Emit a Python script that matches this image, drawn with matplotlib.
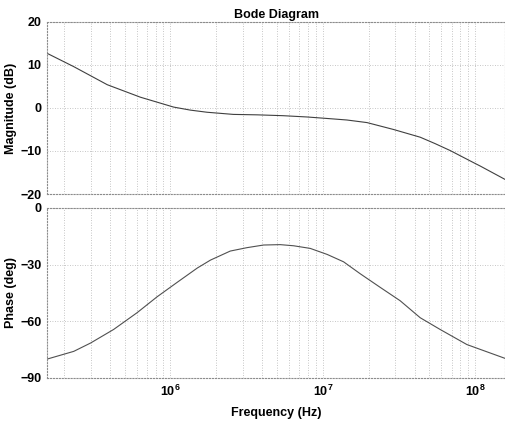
# Bode diagram (magnitude + phase) recreated with matplotlib
import numpy as np
import matplotlib
matplotlib.use('Agg')
import matplotlib.pyplot as plt
from matplotlib.ticker import LogLocator, NullFormatter

plt.rcParams['font.family'] = ['Liberation Sans', 'DejaVu Sans']
plt.rcParams['font.weight'] = 'bold'
plt.rcParams['mathtext.fontset'] = 'custom'
plt.rcParams['mathtext.rm'] = 'Liberation Sans:bold'
plt.rcParams['mathtext.default'] = 'rm'

# Magnitude curve
mag_freq = [1.55e5, 2.32e5, 3.85e5, 6.35e5, 1.05e6, 1.35e6, 1.74e6, 2.59e6,
            3.7e6, 5.5e6, 7.9e6, 1.12e7, 1.44e7, 1.95e7, 2.91e7, 4.36e7,
            5.47e7, 6.86e7, 9.75e7, 1.08e8, 1.57e8]
mag_db = [12.7, 9.6, 5.4, 2.5, 0.2, -0.5, -1.0, -1.5,
          -1.6, -1.8, -2.1, -2.5, -2.8, -3.4, -5.0, -6.8,
          -8.3, -9.9, -12.7, -13.5, -16.6]

# Phase curve
ph_freq = [1.55e5, 2.32e5, 2.99e5, 4.24e5, 6.05e5, 8.18e5, 1.11e6, 1.50e6,
           1.83e6, 2.47e6, 3.18e6, 4.09e6, 5.26e6, 6.44e6, 8.28e6, 1.07e7,
           1.37e7, 1.76e7, 2.38e7, 3.22e7, 4.36e7, 5.89e7, 8.83e7, 1.57e8]
ph_deg = [-80.0, -75.9, -71.5, -64.3, -55.4, -47.0, -39.3, -31.8,
          -27.6, -22.8, -21.0, -19.6, -19.4, -20.0, -21.4, -24.6,
          -28.5, -34.8, -42.0, -49.1, -58.1, -64.3, -72.3, -79.6]

mag_ticks = [-20, -10, 0, 10, 20]
ph_ticks = [-90, -60, -30, 0]
xlim = (1.55e5, 1.57e8)

fig = plt.figure(figsize=(5.06, 4.25), dpi=100)
ax1 = fig.add_axes([0.093, 0.5435, 0.905, 0.405])
ax2 = fig.add_axes([0.093, 0.1106, 0.905, 0.400])

grid_kw = dict(color='#b4b4b4', linestyle=(0, (1, 2)), linewidth=0.6)

for ax in (ax1, ax2):
    ax.set_xscale('log')
    ax.set_xlim(*xlim)
    ax.xaxis.set_major_locator(LogLocator(base=10))
    ax.xaxis.set_minor_locator(LogLocator(base=10, subs=np.arange(2, 10)))
    ax.xaxis.set_minor_formatter(NullFormatter())
    ax.grid(True, which='major', **grid_kw)
    ax.grid(True, which='minor', axis='x', **grid_kw)
    ax.tick_params(which='both', length=0, labelsize=9, pad=4)
    for s in ax.spines.values():
        s.set_color('#8c8c8c')
        s.set_linestyle(':')
        s.set_linewidth(0.8)

ax1.plot(mag_freq, mag_db, color='#404040', linewidth=0.8)
ax1.set_ylim(-20, 20)
ax1.set_yticks(mag_ticks)
ax1.tick_params(labelbottom=False)
ax1.set_ylabel('Magnitude (dB)', fontsize=9, fontweight='bold', labelpad=2)
ax1.set_title('Bode Diagram', fontsize=9, fontweight='bold', pad=3)

ax2.plot(ph_freq, ph_deg, color='#505050', linewidth=0.8)
ax2.set_ylim(-90, 0)
ax2.set_yticks(ph_ticks)
ax2.set_ylabel('Phase (deg)', fontsize=9, fontweight='bold', labelpad=2)
ax2.set_xlabel('Frequency (Hz)', fontsize=9, fontweight='bold', labelpad=6)

fig.savefig('out.png', dpi=100)
